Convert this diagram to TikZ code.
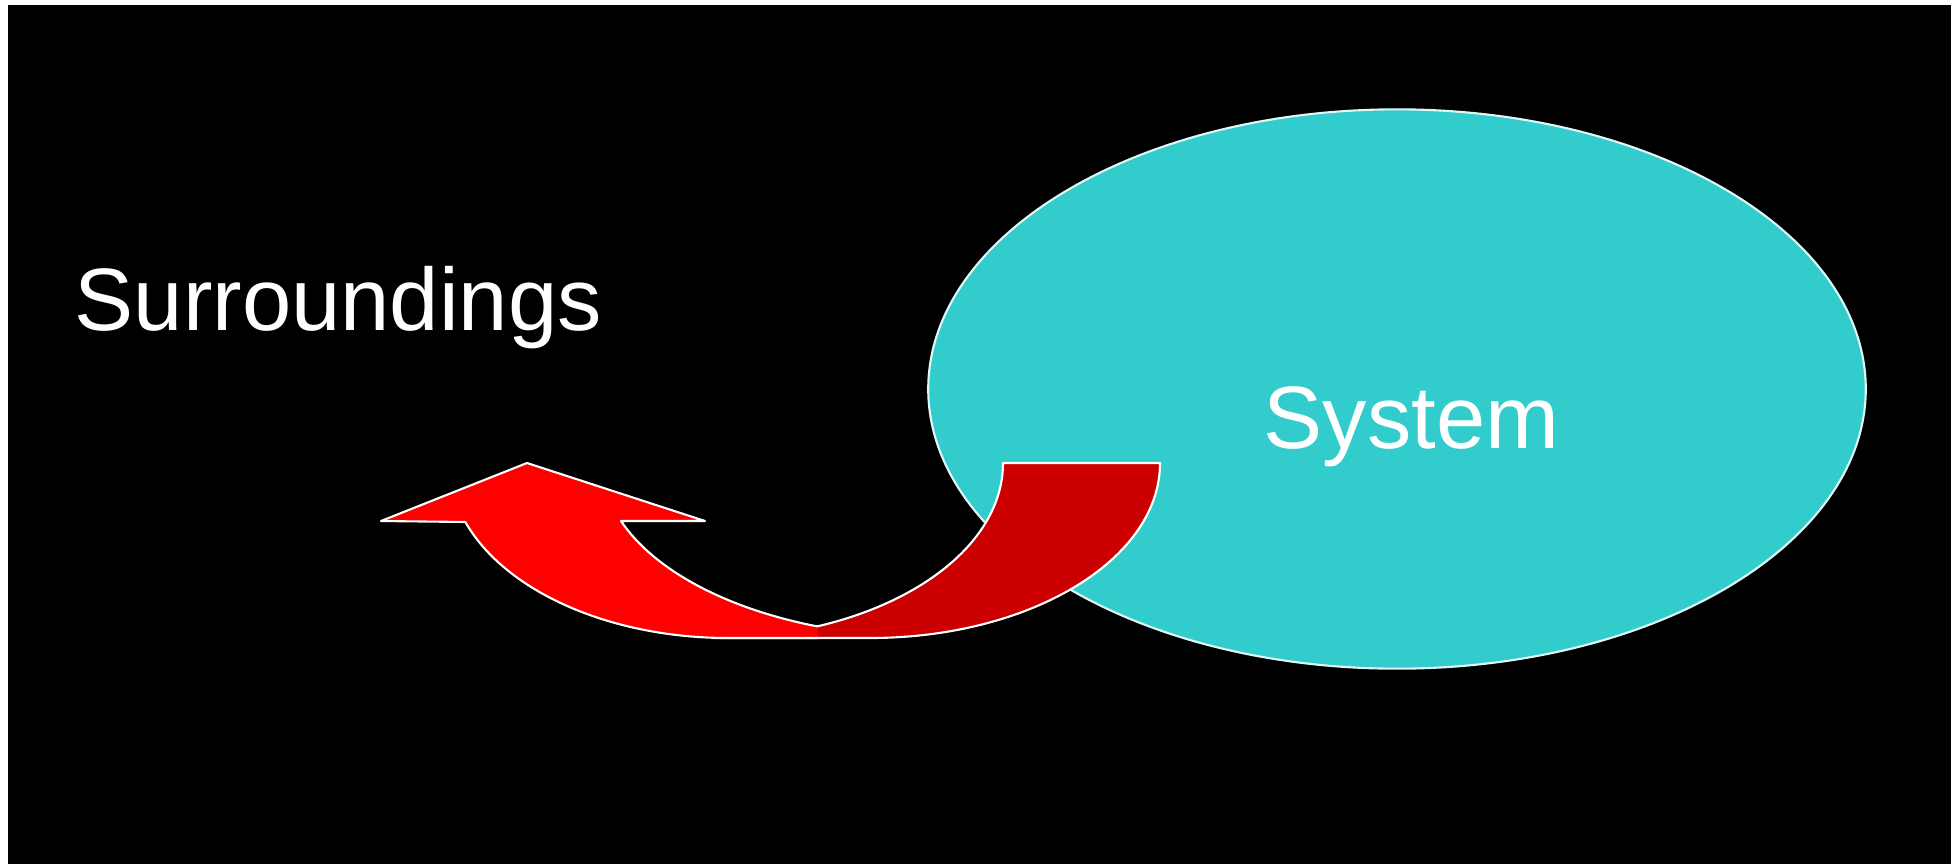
\documentclass[tikz,border=0pt]{standalone}
\usepackage{fontspec}
\setmainfont{Liberation Sans}
\usetikzlibrary{shapes.geometric}
\definecolor{syscyan}{HTML}{33CCCC}
\definecolor{backred}{HTML}{CC0000}
\begin{document}
\begin{tikzpicture}[x=0.01cm, y=-0.01cm,
  lbl/.style={text=white, font=\fontsize{25.2}{30}\selectfont, inner sep=0pt, anchor=base west},
  band/.style={draw=white, line width=0.6pt, line join=round}]
  \useasboundingbox (0,0) rectangle (1951,863);
  \fill[white] (0,0) rectangle (1951,863);
  \fill[black] (8,5) rectangle (1970,880);
  \node[ellipse, fill=syscyan, draw=white!85!syscyan, line width=0.6pt,
    minimum width=9.37cm, minimum height=5.59cm, inner sep=0pt] (sys) at (1397,389) {};
  \node[lbl] (systxt) at (1263,448) {System};
  \node[lbl] (surr) at (74,330) {Surroundings};
  % back part of the arrow
  \draw[band, fill=backred] (1003,463) -- (1160,463)
    arc[start angle=0, end angle=90, x radius=290, y radius=175] -- (713,638)
    arc[start angle=90, end angle=0, x radius=290, y radius=175] -- cycle;
  % front part with the head
  \fill[red] (381,521) -- (527,463) -- (705,521) -- (621,521)
    arc[start angle=160.3, end angle=110, x radius=328, y radius=175] -- (818,638) -- (728,638)
    arc[start angle=90, end angle=160.3, x radius=279, y radius=175] -- cycle;
  \draw[band] (818,638) -- (728,638)
    arc[start angle=90, end angle=160.3, x radius=279, y radius=175]
    -- (381,521) -- (527,463) -- (705,521) -- (621,521)
    arc[start angle=160.3, end angle=110, x radius=328, y radius=175];
\end{tikzpicture}
\end{document}
